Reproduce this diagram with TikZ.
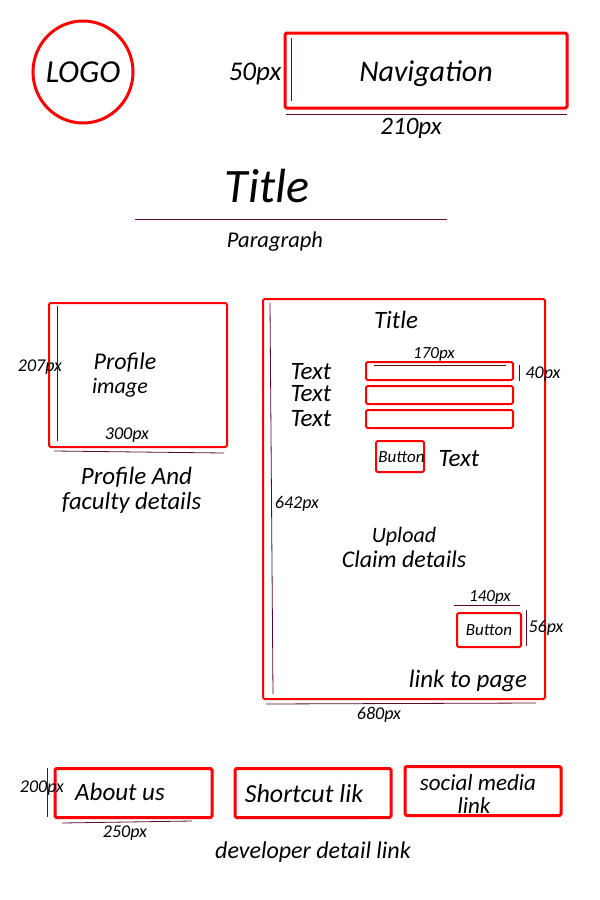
\documentclass[tikz,border=0pt]{standalone}
\usepackage{fontspec}
\setmainfont{Carlito}
\usetikzlibrary{shapes.geometric}
\definecolor{boxred}{HTML}{FF0000}
\definecolor{dimline}{HTML}{5A0A30}
\tikzset{
  box/.style={draw=boxred,rounded corners=1.5pt,inner sep=0pt,outer sep=0pt,anchor=north west,align=center},
  thin box/.style={box,line width=2pt},
  thick box/.style={box,line width=3pt},
  wh/.style 2 args={minimum width=#1pt,minimum height=#2pt},
  dim/.style={draw=dimline,line width=0.8pt},
  lbl/.style={inner sep=0pt,align=center,font=\fontsize{#1}{#1}\selectfont\itshape},
}
\begin{document}
\begin{tikzpicture}[x=1pt,y=-1pt]
\useasboundingbox (0,0) rectangle (600,900);
% logo and navigation
\node[draw=boxred,line width=3pt,ellipse,minimum width=100pt,minimum height=102pt,inner sep=0pt] (logo) at (83,72) {};
\node[lbl=32] (logot) at (83,72) {LOGO};
\node[thick box,wh={282}{75}] (nav) at (285,33) {};
\node[lbl=30] (navt) at (426,74) {Navigation};
\node[lbl=27] (d50) at (255,74) {50px};
\node[lbl=25] (d210) at (411,128) {210px};
\coordinate (navL1) at (291,38); \coordinate (navL2) at (291,101);
\coordinate (navB1) at (286,114); \coordinate (navB2) at (567,114);
\draw[dim] (navL1) -- (navL2);
\draw[dim] (navB1) -- (navB2);
% heading
\node[lbl=48] (title) at (267,186) {Title};
\coordinate (ruleA) at (135,219); \coordinate (ruleB) at (447,219);
\draw[dim] (ruleA) -- (ruleB);
\node[lbl=22.5] (para) at (275,242) {Paragraph};
% profile
\node[thin box,wh={178}{144}] (profile) at (49,303) {};
\node[lbl=24] (pimg1) at (125,362.5) {Profile};
\node[lbl=22] (pimg2) at (120,388) {image};
\node[lbl=18] (d207) at (40,367) {207px};
\node[lbl=18] (d300) at (127,435.5) {300px};
\node[lbl=25] (pfd1) at (136.5,477) {Profile And};
\node[lbl=24.7] (pfd2) at (131.5,503) {faculty details};
\coordinate (pL1) at (57,306); \coordinate (pL2) at (57,441);
\coordinate (pB1) at (54,451); \coordinate (pB2) at (224,453);
\draw[dim] (pL1) -- (pL2);
\draw[dim] (pB1) -- (pB2);
% form
\node[thin box,wh={282}{400}] (form) at (263,299) {};
\node[lbl=25] (ftitle) at (396,320) {Title};
\node[lbl=17] (d170) at (434,354.5) {170px};
\node[thin box,wh={147}{18}] (f1) at (366,362) {};
\node[thin box,wh={147}{18}] (f2) at (366,386) {};
\node[thin box,wh={147}{18}] (f3) at (366,410) {};
\node[lbl=25] (t1) at (311,372) {Text};
\node[lbl=25] (t2) at (311,394) {Text};
\node[lbl=25] (t3) at (311,419) {Text};
\node[lbl=18] (d40) at (543,374.5) {40px};
\coordinate (fT1) at (374,365); \coordinate (fT2) at (506,365);
\coordinate (fR1) at (519,365); \coordinate (fR2) at (519,381);
\draw[dim] (fT1) -- (fT2);
\draw[dim] (fR1) -- (fR2);
\node[thin box,wh={48}{31}] (btn1) at (376,441) {};
\node[lbl=17] (btn1t) at (401.5,457) {Button};
\node[lbl=25] (t4) at (459,459) {Text};
\node[lbl=18] (d642) at (297,503.5) {642px};
\node[lbl=22] (upl1) at (404,537) {Upload};
\node[lbl=24] (upl2) at (404,559) {Claim details};
\node[lbl=17] (d140) at (490,597.5) {140px};
\node[lbl=18] (d56) at (546,627.5) {56px};
\node[thin box,wh={64}{34},lbl=17] (btn2) at (457,613) {Button};
\node[lbl=25] (lnk) at (468,681) {link to page};
\node[lbl=18] (d680) at (379,714.5) {680px};
\coordinate (fL1) at (270,303); \coordinate (fL2) at (273,694);
\coordinate (fB1) at (266,704); \coordinate (fB2) at (536,703);
\coordinate (b2T1) at (454,605); \coordinate (b2T2) at (520,605);
\coordinate (b2R1) at (526,610); \coordinate (b2R2) at (526,646);
\draw[dim] (fL1) -- (fL2);
\draw[dim] (fB1) -- (fB2);
\draw[dim] (b2T1) -- (b2T2);
\draw[dim] (b2R1) -- (b2R2);
% footer
\node[thick box,wh={157}{49}] (about) at (55,768.5) {};
\node[thick box,wh={156}{49}] (short) at (235,768.5) {};
\node[thick box,wh={156}{49}] (social) at (405,766.5) {};
\node[lbl=25] (aboutt) at (120,792) {About us};
\node[lbl=26] (shortt) at (304,794) {Shortcut lik};
\node[lbl=23] (socialt1) at (478,783) {social media};
\node[lbl=23] (socialt2) at (474,806) {link};
\node[lbl=18] (d200) at (42,788.5) {200px};
\node[lbl=18] (d250) at (125,833.5) {250px};
\node[lbl=24] (dev) at (313,852) {developer detail link};
\coordinate (aL1) at (47,768); \coordinate (aL2) at (47,817);
\coordinate (aB1) at (62,823); \coordinate (aB2) at (192,821);
\draw[dim] (aL1) -- (aL2);
\draw[dim] (aB1) -- (aB2);
\end{tikzpicture}
\end{document}
